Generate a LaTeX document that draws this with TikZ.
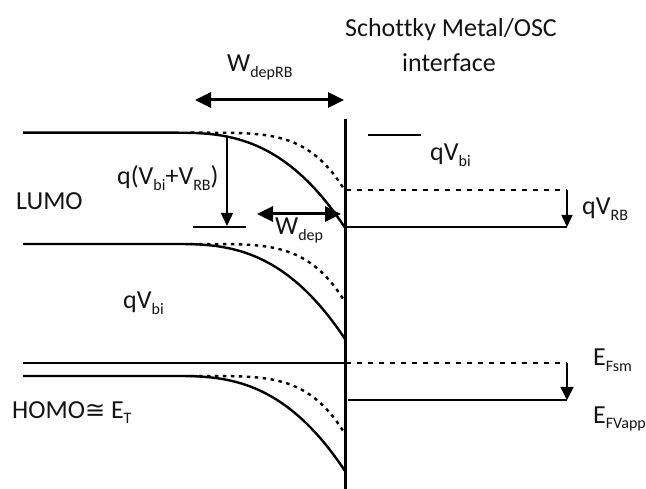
\documentclass[tikz,border=0pt]{standalone}
\usepackage{fontspec}
\setmainfont{Carlito}[Ligatures=NoCommon]
\newfontfamily\dejavu{DejaVu Sans}
\usetikzlibrary{arrows.meta}
\newcommand\sbs[1]{\raisebox{-0.2em}{\fontsize{16}{16}\selectfont #1}}
\begin{document}
\begin{tikzpicture}[x=1pt,y=-1pt, font=\fontsize{26}{30}\selectfont,
  band/.style={line width=2.4pt},
  pot/.style={line width=2.4pt, dash pattern=on 3.5pt off 4.5pt},
  hdash/.style={line width=2.2pt, dash pattern=on 5pt off 6pt},
  thinl/.style={line width=1.4pt},
  lbl/.style={anchor=base west, inner sep=0pt, text=black!92},
  dbl/.style={line width=3pt, {Triangle[length=16pt,width=15pt]}-{Triangle[length=16pt,width=15pt]}},
  down/.style={line width=1.6pt, -{Triangle[length=12pt,width=11pt]}}]
\useasboundingbox (0,0) rectangle (646,489);

% interface
\coordinate (itop) at (345.5,119);
\coordinate (ibot) at (345.5,489);
\draw[line width=2.8pt] (itop) -- (ibot);

% LUMO band (three bent levels)
\foreach \y/\n in {132.7/a, 244/b, 376/c}{
  \draw[band] (23,\y) -- (175,\y) -- plot[domain=0.005:1, samples=60] ({175+170*\x},{\y+95*pow(\x,2.7)});
  \draw[pot] plot[domain=0.005:1, samples=60] ({190+155*\x},{\y+58*pow(\x,4.4)});
}

% Fermi level line left
\coordinate (efl) at (23,363);
\coordinate (efi) at (345.5,363);
\draw[band] (efl) -- (efi);

% right side levels
\coordinate (r1a) at (345.5,190);
\coordinate (r1b) at (567,190);
\coordinate (r2a) at (345.5,227);
\coordinate (r2b) at (567,227);
\draw[hdash] (r1a) -- (r1b);
\draw[band] (r2a) -- (r2b);
\draw[down] (r1b) -- (r2b);

\coordinate (r3a) at (345.5,363);
\coordinate (r3b) at (567,363);
\coordinate (r4a) at (348,400);
\coordinate (r4b) at (567,400);
\draw[hdash] (r3a) -- (r3b);
\draw[band] (r4a) -- (r4b);
\draw[down, -{Triangle[length=13pt,width=13pt]}] (r3b) -- (r4b);

% short reference lines
\coordinate (s1a) at (368,135);
\coordinate (s1b) at (421,135);
\draw[thinl] (s1a) -- (s1b);
\coordinate (s2a) at (193,227);
\coordinate (s2b) at (246,227);
\draw[thinl] (s2a) -- (s2b);

% q(Vbi+VRB) arrow
\coordinate (qa) at (227,136);
\coordinate (qb) at (227,226);
\draw[line width=1.4pt, -{Triangle[length=13pt,width=12pt]}] (qa) -- (qb);

% width arrows
\coordinate (wa) at (195,100);
\coordinate (wb) at (344,100);
\draw[dbl] (wa) -- (wb);
\coordinate (wc) at (257,214);
\coordinate (wd) at (341,214);
\draw[dbl] (wc) -- (wd);

% labels
\node[anchor=base, inner sep=0pt, text=black!92] (t1) at (451,37) {Schottky Metal/OSC};
\node[anchor=base, inner sep=0pt, text=black!92] (t2) at (449,72) {interface};
\node[lbl] (lwrb) at (227,72) {W\sbs{depRB}};
\node[lbl] (lq) at (117,185) {q(V\sbs{bi}+V\sbs{RB})};
\node[lbl] (llumo) at (16,210) {LUMO};
\node[lbl] (lwd) at (275,235) {W\sbs{dep}};
\node[lbl] (lqv1) at (430,161) {qV\sbs{bi}};
\node[lbl] (lqrb) at (582,215) {qV\sbs{RB}};
\node[lbl] (lqv2) at (123,309) {qV\sbs{bi}};
\node[lbl] (lefs) at (593,366) {E\sbs{Fsm}};
\node[lbl] (lefv) at (593,423) {E\sbs{FVapp}};
\node[lbl] (lhomo) at (12,418) {HOMO{\dejavu\fontsize{24}{24}\selectfont ≅} E\sbs{T}};
\end{tikzpicture}
\end{document}
